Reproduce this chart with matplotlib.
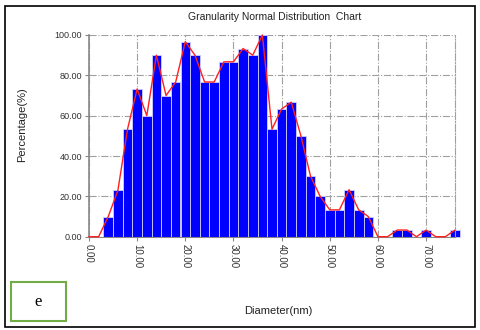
import matplotlib
matplotlib.use("Agg")
import matplotlib.pyplot as plt
from matplotlib.patches import Rectangle

plt.rcParams['font.family'] = ['Liberation Sans', 'DejaVu Sans']

# bin left edges (nm) and percentages
bin_left = [3, 5, 7, 9, 11, 13, 15, 17, 19, 21, 23, 25, 27, 29, 31, 33, 35, 37, 39, 41,
            43, 45, 47, 49, 51, 53, 55, 57, 63, 65, 69, 75]
bin_vals = [10, 23, 53.3, 73.3, 60, 90, 70, 76.7, 96.7, 90, 76.7, 76.7, 86.7, 86.7, 93.3, 90, 100, 53.3, 63.3, 66.7,
            50, 30, 20, 13.3, 13.3, 23.3, 13.3, 10, 3.3, 3.3, 3.3, 3.3]
bin_width = 2

# polyline through bin centres (including empty bins)
line_x = [0, 2, 4, 6, 8, 10, 12, 14, 16, 18, 20, 22, 24, 26, 28, 30, 32, 34, 36, 38, 40, 42,
          44, 46, 48, 50, 52, 54, 56, 58, 60, 62, 64, 66, 68, 70, 72, 74, 76]
line_y = [0, 0, 10, 23, 53.3, 73.3, 60, 90, 70, 76.7, 96.7, 90, 76.7, 76.7, 86.7, 86.7, 93.3, 90, 100, 53.3, 63.3, 66.7,
          50, 30, 20, 13.3, 13.3, 23.3, 13.3, 10, 0, 0, 3.3, 3.3, 0, 3.3, 0, 0, 3.3]

xticks = [0, 10, 20, 30, 40, 50, 60, 70]
yticks = [0, 20, 40, 60, 80, 100]

fig = plt.figure(figsize=(4.8, 3.3), dpi=100)
# outer frame
fig.patches.append(Rectangle((5/480, 1 - 327/330), 470/480, 321/330, transform=fig.transFigure,
                             fill=False, edgecolor='black', linewidth=1.2))
# green label box
fig.patches.append(Rectangle((11/480, 1 - 321/330), 55/480, 39/330, transform=fig.transFigure,
                             fill=False, edgecolor='#70AD47', linewidth=1.5))
fig.text(38/480, 1 - 302/330, 'e', family=['Liberation Serif', 'DejaVu Serif'], fontsize=12,
         ha='center', va='center')

ax = fig.add_axes([89/480, 1 - 236.7/330, (455 - 89)/480, (236.7 - 35)/330])
ax.bar(bin_left, bin_vals, width=bin_width, align='edge', color='#0000FF',
       edgecolor='#d0d0ff', linewidth=0.6, clip_on=False, zorder=2)
ax.plot(line_x, line_y, color='#FF2020', linewidth=1.0, zorder=3, clip_on=False)

ax.set_xlim(0, 76)
ax.set_ylim(0, 100)
ax.set_xticks(xticks)
ax.set_xticklabels([f'{v:.2f}' for v in xticks], rotation=270, fontsize=7, color='#333333')
ax.set_yticks(yticks)
ax.set_yticklabels([f'{v:.2f}' for v in yticks], fontsize=6.5, color='#333333')
ax.tick_params(axis='both', length=3, color='#888888', width=0.8, pad=2)
ax.grid(True, color='#a0a0a0', linestyle='-.', linewidth=0.8, zorder=0)
ax.set_axisbelow(True)
ax.spines['top'].set_visible(False)
ax.spines['right'].set_color('#a0a0a0')
ax.spines['right'].set_linestyle('-.')
ax.spines['left'].set_color('#888888')
ax.spines['left'].set_linewidth(1.2)
ax.spines['bottom'].set_color('#888888')

fig.text(275/480, 1 - 17/330, 'Granularity Normal Distribution  Chart', fontsize=7.5,
         ha='center', va='center', color='#222222')
fig.text(22/480, 1 - 125/330, 'Percentage(%)', fontsize=8, rotation=90,
         ha='center', va='center', color='#222222')
fig.text(278/480, 1 - 311/330, 'Diameter(nm)', fontsize=8, ha='center', va='center', color='#222222')

fig.savefig('out.png', dpi=100)
